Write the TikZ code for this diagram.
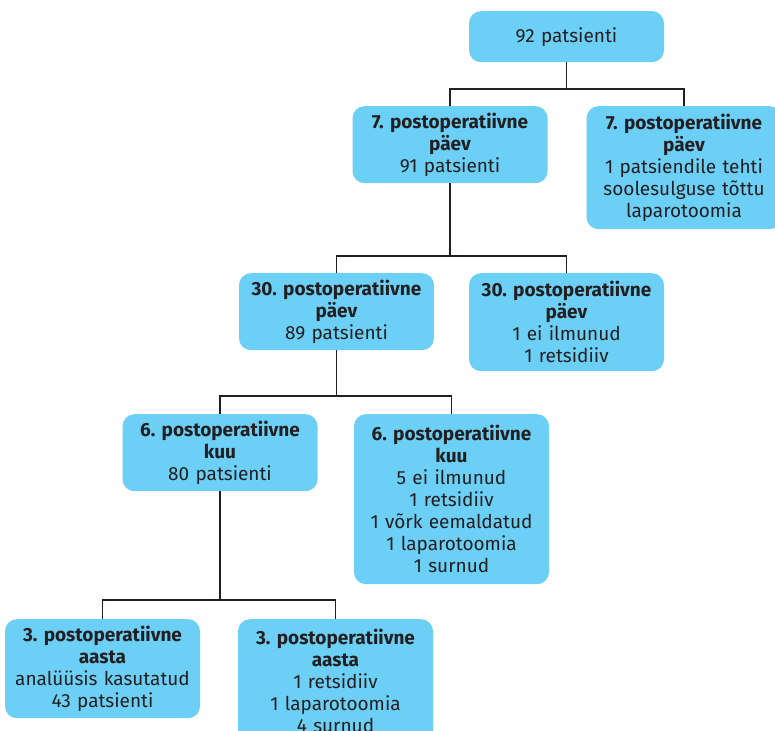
\documentclass[tikz,border=0pt]{standalone}
\usepackage{fontspec}
\setmainfont{Fira Sans}
\definecolor{boxblue}{HTML}{6BCFF6}
\definecolor{txt}{HTML}{231F20}
\definecolor{linec}{HTML}{231F20}
\tikzset{
  flowbox/.style={fill=boxblue, draw=none, rounded corners=12pt, text width=187pt,
    align=center, anchor=north, inner xsep=4pt, inner ysep=4pt, text=txt,
    font=\fontsize{19}{22}\selectfont\frenchspacing},
  conn/.style={draw=linec, line width=1.1pt}
}
\begin{document}
\begin{tikzpicture}[x=1pt,y=-1pt]
\useasboundingbox (0,0) rectangle (775,730);
\node[flowbox, minimum height=51pt] (top) at (566.5,11) {92 patsienti};
\node[flowbox, minimum height=77pt] (b1) at (450,106) {\textbf{7. postoperatiivne}\\\textbf{päev}\\91 patsienti};
\node[flowbox, minimum height=123pt] (b2) at (684,106) {\textbf{7. postoperatiivne}\\\textbf{päev}\\1 patsiendile tehti\\soolesulguse tõttu\\laparotoomia};
\node[flowbox, minimum height=77pt] (c1) at (336.5,273) {\textbf{30. postoperatiivne}\\\textbf{päev}\\89 patsienti};
\node[flowbox, minimum height=98pt] (c2) at (566.5,273) {\textbf{30. postoperatiivne}\\\textbf{päev}\\1 ei ilmunud\\1 retsidiiv};
\node[flowbox, minimum height=77pt] (d1) at (220,414) {\textbf{6. postoperatiivne}\\\textbf{kuu}\\80 patsienti};
\node[flowbox, minimum height=170pt] (d2) at (451.5,414) {\textbf{6. postoperatiivne}\\\textbf{kuu}\\5 ei ilmunud\\1 retsidiiv\\1 võrk eemaldatud\\1 laparotoomia\\1 surnud};
\node[flowbox, minimum height=99pt] (e1) at (102.5,619) {\textbf{3. postoperatiivne}\\\textbf{aasta}\\analüüsis kasutatud\\43 patsienti};
\node[flowbox, minimum height=123pt] (e2) at (335.5,619) {\textbf{3. postoperatiivne}\\\textbf{aasta}\\1 retsidiiv\\1 laparotoomia\\4 surnud};
\coordinate (j1) at (566.5,89);
\coordinate (j2) at (450,256);
\coordinate (j3) at (336.5,396);
\coordinate (j4) at (220,600);
\draw[conn] (top.south) -- (j1);
\draw[conn] (b1.north) |- (j1) -| (b2.north);
\draw[conn] (b1.south) -- (j2);
\draw[conn] (c1.north) |- (j2) -| (c2.north);
\draw[conn] (c1.south) -- (j3);
\draw[conn] (d1.north) |- (j3) -| (d2.north);
\draw[conn] (d1.south) -- (j4);
\draw[conn] (e1.north) |- (j4) -| (e2.north);
\end{tikzpicture}
\end{document}
